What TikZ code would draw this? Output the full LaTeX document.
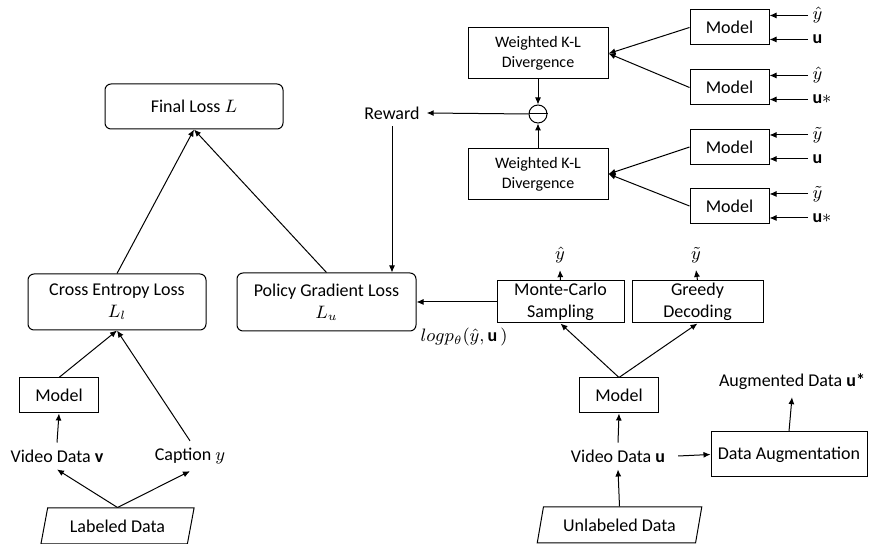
\documentclass[tikz,border=0pt]{standalone}
\usepackage{fontspec}
\setmainfont{Carlito}
\usetikzlibrary{arrows.meta,shapes.geometric}

\tikzset{
	loss/.style={draw, rounded corners=3pt, align=center, inner sep=1pt},
	blk/.style={draw, align=center, inner sep=1pt},
	dat/.style={draw, trapezium, trapezium left angle=74, trapezium right angle=106,
		trapezium stretches=true, inner sep=1pt},
	sub/.style={draw, circle, minimum size=9pt, inner sep=0pt},
	klbox/.style={blk, font=\fontsize{8}{10}\selectfont, minimum width=70pt, minimum height=25.5pt},
	mdl/.style={blk, minimum width=39.5pt, minimum height=17.5pt},
	inp/.style={anchor=west, inner sep=2pt},
}

\begin{document}
\begin{tikzpicture}[x=0.5pt, y=-0.5pt, line width=0.5pt, >={Latex[length=3.5pt,width=3pt]},
	font=\fontsize{9}{11}\selectfont]
	\useasboundingbox (0,0) rectangle (869,544);

	% losses
	\node[loss, minimum width=89pt, minimum height=22.5pt] (final) at (194,106.5) {Final Loss $L$};
	\node[loss, minimum width=89pt, minimum height=28pt] (ce) at (117,302) {Cross Entropy Loss\\$L_l$};
	\node[loss, minimum width=89.5pt, minimum height=29pt] (pg) at (326.5,302) {Policy Gradient Loss\\$L_u$};

	% labeled branch
	\node[mdl] (mv) at (59,395.5) {Model};
	\node (vv) at (57,456) {Video Data \textbf{v}};
	\node (cap) at (190,456) {Caption $y$};
	\node[dat, minimum width=77pt, minimum height=18pt] (lab) at (117.5,526) {Labeled Data};

	\draw[->] (lab.north) -- (vv.south);
	\draw[->] (lab.north) -- (cap.south);
	\draw[->] (vv.north) -- (mv.south);
	\draw[->] (mv.north) -- (ce.south);
	\draw[->] (cap.north) -- (ce.south);
	\draw[->] (ce.north) -- (final.south);
	\draw[->] (pg.north) -- (final.south);

	% unlabeled branch
	\node[blk, minimum width=63.5pt, minimum height=21pt] (mc) at (560.5,302) {Monte-Carlo\\Sampling};
	\node[blk, minimum width=65.5pt, minimum height=21pt] (gd) at (697.5,302) {Greedy\\Decoding};
	\node (yh) at (560,255) {$\hat{y}$};
	\node (yt) at (696,255) {$\tilde{y}$};
	\node[mdl] (mu) at (619,395.5) {Model};
	\node (vu) at (618,456) {Video Data \textbf{u}};
	\node[blk, minimum width=78pt, minimum height=22.5pt] (aug) at (789,454.5) {Data Augmentation};
	\node (ud) at (792,382) {Augmented Data \textbf{u*}};
	\node[dat, minimum width=82.5pt, minimum height=18pt] (unl) at (619.5,525) {Unlabeled Data};
	\node[anchor=north west, inner sep=0pt] (lp) at (420,328) {$logp_\theta(\hat{y},\mathbf{u}\,)$};

	\draw[->] (unl.north) -- (vu.south);
	\draw[->] (vu.north) -- (mu.south);
	\draw[->] ([xshift=3pt]vu.east) -- (aug.west);
	\draw[->] (aug.north) -- (ud.south);
	\draw[->] (mu.north) -- (mc.south);
	\draw[->] (mu.north) -- (gd.south);
	\draw[->] (mc.north) -- (yh.south);
	\draw[->] (gd.north) -- (yt.south);
	\draw[->] (mc.west) -- (pg.east |- mc.west);

	% reward
	\node[klbox] (kl1) at (538,53.5) {Weighted K-L\\Divergence};
	\node[klbox] (kl2) at (538,174) {Weighted K-L\\Divergence};
	\node[sub] (minus) at (538,114) {};
	\draw (minus.west) -- (minus.east);
	\node (rw) at (392,113) {Reward};

	\draw[->] (kl1.south) -- (minus.north);
	\draw[->] (kl2.north) -- (minus.south);
	\draw[->] (minus.west) -- (rw.east);
	\draw[->] (rw.south) -- (rw.south |- pg.north);

	% models feeding the divergences
	\foreach \i/\c/\a/\b/\k in {1/27.5/\hat{y}/\mathbf{u}/kl1, 2/87.5/\hat{y}/\mathbf{u}{*}/kl1,
		3/147/\tilde{y}/\mathbf{u}/kl2, 4/206/\tilde{y}/\mathbf{u}{*}/kl2} {
		\node[mdl] (m\i) at (729.5,\c) {Model};
		\node[inp] (a\i) at (808,\c-12) {$\a$};
		\node[inp] (b\i) at (808,\c+12) {$\b$};
		\draw[->] (a\i.west) -- (m\i.east |- a\i.west);
		\draw[->] (b\i.west) -- (m\i.east |- b\i.west);
		\draw[->] (m\i.west) -- (\k.east);
	}
\end{tikzpicture}
\end{document}
